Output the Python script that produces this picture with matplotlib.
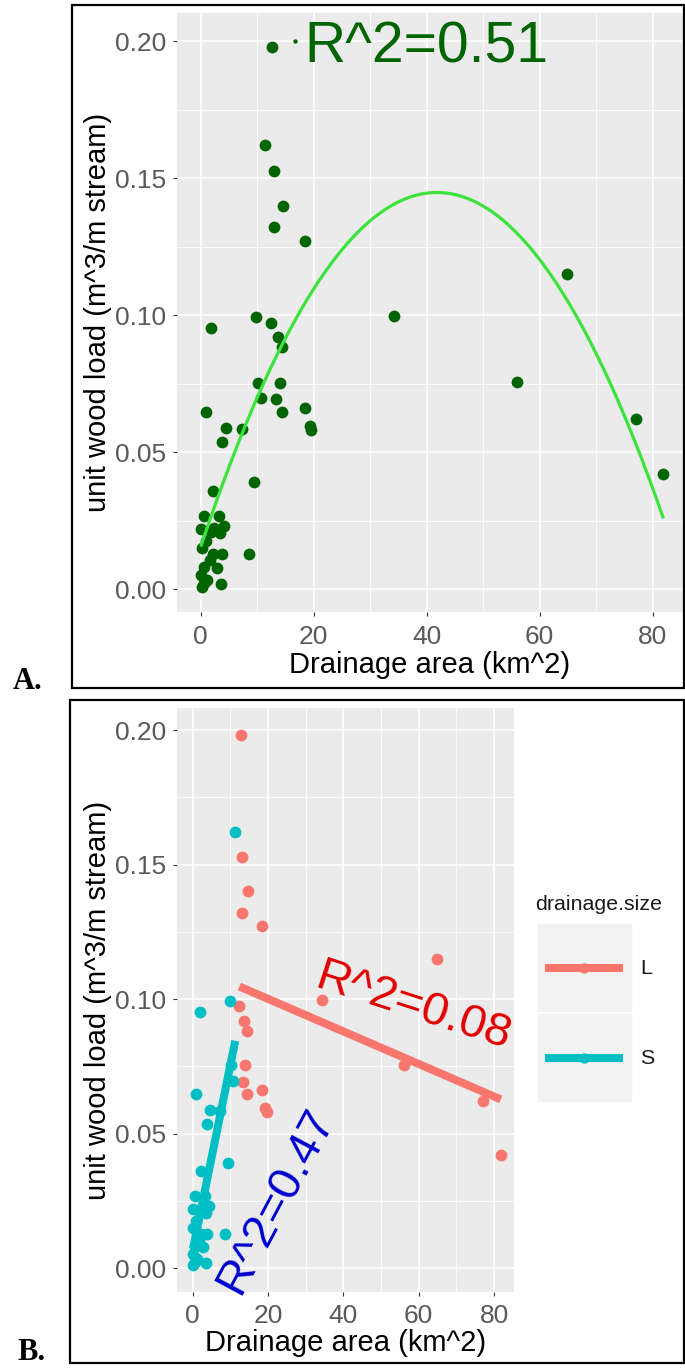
import numpy as np
import matplotlib
matplotlib.use('Agg')
import matplotlib.pyplot as plt
from matplotlib.patches import Rectangle
from matplotlib.lines import Line2D

plt.rcParams['font.family'] = ['Liberation Sans', 'DejaVu Sans']

# ---------------- data ----------------
area = [12.7, 11.3, 13.0, 14.6, 13.0, 18.5, 34.2, 9.8, 12.4, 1.9,
        13.7, 14.4, 10.2, 14.0, 10.6, 13.3, 14.3, 18.5, 19.3, 19.6,
        0.9, 4.5, 7.3, 3.8, 9.4, 2.1, 0.5, 3.3, 0.1, 4.2,
        1.9, 3.4, 0.2, 2.1, 3.8, 8.5, 0.5, 2.8, 0.1, 0.5,
        3.6, 0.2, 56.0, 64.8, 77.0, 81.8,
        1.2, 1.6, 0.9, 2.4]
wood_load = [0.198, 0.1621, 0.1528, 0.140, 0.1321, 0.1272, 0.0997, 0.0993, 0.0973, 0.0953,
             0.092, 0.0883, 0.0754, 0.0754, 0.0697, 0.0693, 0.0648, 0.0663, 0.0596, 0.0581,
             0.0648, 0.0588, 0.0584, 0.0537, 0.0392, 0.036, 0.0269, 0.0269, 0.0219, 0.0231,
             0.021, 0.0204, 0.015, 0.0128, 0.0128, 0.0128, 0.0082, 0.0079, 0.0052, 0.0024,
             0.0018, 0.001, 0.0755, 0.115, 0.062, 0.042,
             0.0035, 0.0105, 0.0175, 0.0225]
drainage_size = ['L', 'S', 'L', 'L', 'L', 'L', 'L', 'S', 'L', 'S',
                 'L', 'L', 'S', 'L', 'S', 'L', 'L', 'L', 'L', 'L',
                 'S', 'S', 'S', 'S', 'S', 'S', 'S', 'S', 'S', 'S',
                 'S', 'S', 'S', 'S', 'S', 'S', 'S', 'S', 'S', 'S',
                 'S', 'S', 'L', 'L', 'L', 'L',
                 'S', 'S', 'S', 'S']
groups = ['L', 'S']
group_colors = {'L': '#F8766D', 'S': '#00BFC4'}

# fitted curves (coefficients, highest power first)
quad_fit_all = [-7.4e-5, 0.0061864, 0.0155]
lin_fit = {'L': [-0.000605, 0.11216], 'S': [0.0069, 0.0065]}

x_ticks = [0, 20, 40, 60, 80]
y_ticks = [0.00, 0.05, 0.10, 0.15, 0.20]
y_tick_labels = ['0.00', '0.05', '0.10', '0.15', '0.20']

r2_all = 'R^2=0.51'
r2_groups = {'L': 'R^2=0.08', 'S': 'R^2=0.47'}
dot_x = [16.6]
dot_y = [0.2]

# ---------------- layout helpers ----------------
W, H = 685, 1368
fig = plt.figure(figsize=(W / 100, H / 100), dpi=100)


def fx(px):
    return px / W


def fy(py):
    return 1 - py / H


def style_axes(ax):
    ax.set_facecolor('#EBEBEB')
    for s in ax.spines.values():
        s.set_visible(False)
    ax.set_xticks(x_ticks)
    ax.set_xticks([10, 30, 50, 70], minor=True)
    ax.set_yticks(y_ticks)
    ax.set_yticklabels(y_tick_labels)
    ax.set_yticks([0.025, 0.075, 0.125, 0.175], minor=True)
    ax.grid(which='major', color='white', linewidth=1.2)
    ax.grid(which='minor', color='white', linewidth=0.6)
    ax.set_axisbelow(True)
    ax.tick_params(which='major', length=3, width=0.8, color='#333333',
                   labelsize=19, labelcolor='#5A5A5A')
    ax.tick_params(axis='x', pad=6)
    ax.tick_params(axis='y', pad=4.3)
    ax.tick_params(which='minor', length=0)


x_arr = np.array(area)
y_arr = np.array(wood_load)
g_arr = np.array(drainage_size)

# ---------------- panel A ----------------
axA = fig.add_axes([fx(176.7), fy(612), (682.7 - 176.7) / W, (612 - 13) / H])
style_axes(axA)
axA.set_xlim(-4.25, 85.3)
axA.set_ylim(-0.0083, 0.2103)
axA.scatter(x_arr, y_arr, s=72, color='#006400', linewidths=0, zorder=3)
xs = np.linspace(x_arr.min(), x_arr.max(), 300)
axA.plot(xs, np.polyval(quad_fit_all, xs), color='#3BE33B', lw=2.3, zorder=4)
axA.scatter(dot_x, dot_y, s=10, color='#006400', linewidths=0, zorder=5)
axA.text(40, 0.2, r2_all, color='#006400', fontsize=41, ha='center',
         va='center_baseline', zorder=6)

fig.text(fx(98), fy(312.5), 'unit wood load (m^3/m stream)', rotation=90,
         ha='center', va='center', fontsize=21, color='black')
fig.text(fx(429.7), fy(665), 'Drainage area (km^2)', ha='center', va='center',
         fontsize=21, color='black')

# ---------------- panel B ----------------
axB = fig.add_axes([fx(176.7), fy(1291.7), (514 - 176.7) / W, (1291.7 - 708) / H])
style_axes(axB)
axB.set_xlim(-4.25, 85.3)
axB.set_ylim(-0.0088, 0.2082)
for g in groups:
    m = g_arr == g
    axB.scatter(x_arr[m], y_arr[m], s=72, color=group_colors[g], linewidths=0, zorder=3)
for g in groups:
    m = g_arr == g
    xx = np.linspace(x_arr[m].min(), x_arr[m].max(), 50)
    axB.plot(xx, np.polyval(lin_fit[g], xx), color=group_colors[g], lw=5.8,
             solid_capstyle='butt', zorder=4)

axB.text(59, 0.099, r2_groups['L'], color='#E00000', fontsize=34, rotation=-18,
         rotation_mode='anchor', ha='center', va='center_baseline', zorder=6)
axB.text(21, 0.0257, r2_groups['S'], color='#0000CD', fontsize=34, rotation=62,
         rotation_mode='anchor', ha='center', va='center_baseline', zorder=6,
         clip_on=False)

fig.text(fx(98), fy(1000), 'unit wood load (m^3/m stream)', rotation=90,
         ha='center', va='center', fontsize=21, color='black')
fig.text(fx(345.3), fy(1343), 'Drainage area (km^2)', ha='center', va='center',
         fontsize=21, color='black')

# ---------------- legend ----------------
fig.text(fx(535), fy(905), 'drainage.size', ha='left', va='center',
         fontsize=15.4, color='#1A1A1A')
key_top = 923
key_h = 90
for i, g in enumerate(groups):
    top = key_top + i * key_h
    fig.patches.append(Rectangle((fx(537), fy(top + key_h)), (633 - 537) / W, key_h / H,
                                 facecolor='#F2F2F2', edgecolor='white', lw=1.2,
                                 transform=fig.transFigure, zorder=1))
    cy = top + 45
    fig.lines.append(Line2D([fx(545), fx(623)], [fy(cy), fy(cy)], lw=5.8,
                            color=group_colors[g], solid_capstyle='butt',
                            transform=fig.transFigure, zorder=2))
    fig.lines.append(Line2D([fx(584)], [fy(cy)], marker='o', ms=7.5, mew=0,
                            color=group_colors[g], transform=fig.transFigure, zorder=3))
    fig.text(fx(640), fy(cy), g, ha='left', va='center', fontsize=15.4, color='#1A1A1A')

# ---------------- frames and panel letters ----------------
fig.patches.append(Rectangle((fx(71.7), fy(688)), (684 - 71.7) / W, (688 - 5) / H,
                             fill=False, lw=1.6, edgecolor='black',
                             transform=fig.transFigure))
fig.patches.append(Rectangle((fx(70), fy(1363)), (684 - 70) / W, (1363 - 700) / H,
                             fill=False, lw=1.6, edgecolor='black',
                             transform=fig.transFigure))
fig.text(fx(13), fy(689), 'A.', fontfamily='Liberation Serif', fontweight='bold',
         fontsize=22, va='baseline', ha='left')
fig.text(fx(17), fy(1360), 'B.', fontfamily='Liberation Serif', fontweight='bold',
         fontsize=22, va='baseline', ha='left')

fig.savefig('out.png', dpi=100)
